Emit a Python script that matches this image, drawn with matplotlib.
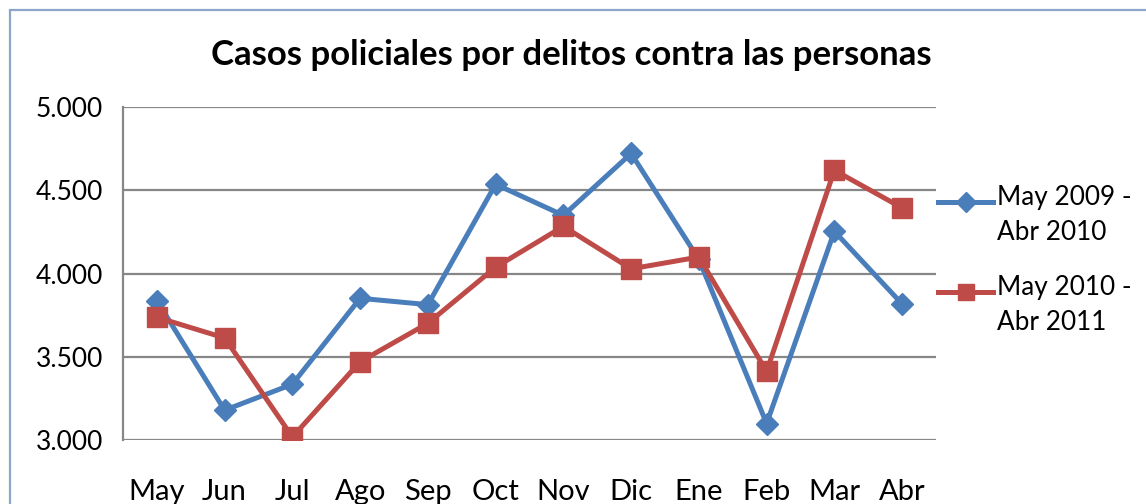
import matplotlib
matplotlib.use("Agg")
import matplotlib.pyplot as plt
from matplotlib.lines import Line2D
from matplotlib.patches import Rectangle

months = ["May", "Jun", "Jul", "Ago", "Sep", "Oct", "Nov", "Dic", "Ene", "Feb", "Mar", "Abr"]
serie_2009 = [3837, 3179, 3335, 3851, 3813, 4536, 4349, 4721, 4085, 3099, 4253, 3817]
serie_2010 = [3737, 3613, 3018, 3470, 3701, 4038, 4283, 4028, 4099, 3412, 4620, 4394]
series_labels = ["May 2009 -\nAbr 2010", "May 2010 -\nAbr 2011"]
y_ticks = [3000, 3500, 4000, 4500, 5000]
y_tick_labels = ["3.000", "3.500", "4.000", "4.500", "5.000"]
title = "Casos policiales por delitos contra las personas"

BLUE = "#4A7EBB"
RED = "#BE4B48"
GRID = "#878787"
FONT = "Lato"

plt.rcParams["font.family"] = [FONT, "DejaVu Sans"]

W, H = 1146, 504
fig = plt.figure(figsize=(W / 100, H / 100), dpi=100)

# chart border (extends past right and bottom edges)
fig.add_artist(Rectangle((10 / W, -0.1), 1.2, 1 - 9.5 / H + 0.1,
                         transform=fig.transFigure, fill=False,
                         edgecolor="#8BA6C8", linewidth=1.6))

ax = fig.add_axes([123 / W, 1 - 440 / H, (936 - 123) / W, (440 - 107) / H])
x = list(range(len(months)))

ax.plot(x, serie_2009, color=BLUE, linewidth=3.6, marker="D", markersize=11,
        markeredgecolor=BLUE, markerfacecolor=BLUE, zorder=3)
ax.plot(x, serie_2010, color=RED, linewidth=3.6, marker="s", markersize=14,
        markeredgecolor=RED, markerfacecolor=RED, zorder=4)

ax.set_xlim(-0.5, len(months) - 0.5)
ax.set_ylim(3000, 5000)
ax.set_yticks(y_ticks)
ax.set_yticklabels(y_tick_labels, fontsize=19)
ax.set_xticks(x)
ax.set_xticklabels(months, fontsize=21)
ax.tick_params(axis="y", length=0, pad=14.5)
ax.tick_params(axis="x", length=0, pad=28)
ax.grid(axis="y", color=GRID, linewidth=1.6)
ax.set_axisbelow(True)
for s in ["top", "right", "bottom"]:
    ax.spines[s].set_visible(False)
ax.spines["left"].set_color(GRID)
ax.spines["left"].set_linewidth(1.6)

fig.text(571 / W, 1 - 65 / H, title, ha="center", va="baseline",
         fontsize=25, fontweight="bold")

# legend
leg_items = [(BLUE, "D", 10, serie_2009), (RED, "s", 12, serie_2010)]
for i, ((c, m, ms, _), lab) in enumerate(zip(leg_items, series_labels)):
    yline = 202 + i * 90
    yc = 1 - yline / H
    fig.add_artist(Line2D([938 / W, 993 / W], [yc, yc], transform=fig.transFigure,
                          color=c, linewidth=3.6, marker=None))
    fig.add_artist(Line2D([965.5 / W], [yc], transform=fig.transFigure,
                          color=c, marker=m, markersize=ms, linestyle="none"))
    fig.text(997 / W, 1 - (yline - 17) / H, lab, ha="left", va="top", fontsize=18.8,
             linespacing=1.5, transform=fig.transFigure)

fig.savefig("out.png", dpi=100)
